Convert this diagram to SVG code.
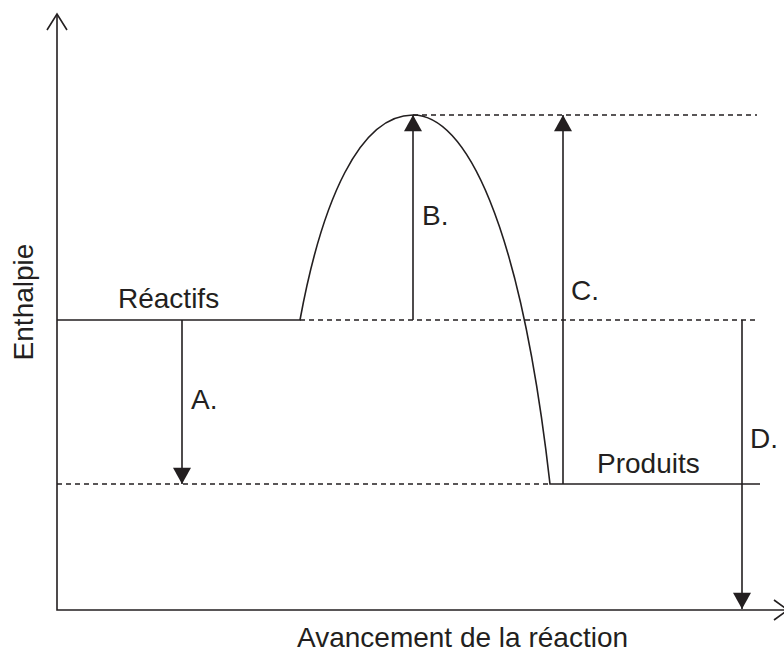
<svg xmlns="http://www.w3.org/2000/svg" width="784" height="653" viewBox="0 0 784 653">
<style>
.ln{stroke:#231f20;stroke-width:1.6;fill:none}
.ds{stroke:#231f20;stroke-width:1.5;fill:none;stroke-dasharray:5,4}
.t{font-family:"Liberation Sans",Arial,sans-serif;font-size:28px;fill:#231f20}
</style>
<defs>
<marker id="ah" markerWidth="20" markerHeight="18" refX="18" refY="10" orient="auto" markerUnits="userSpaceOnUse" viewBox="0 0 18 20">
<path d="M0,0 L18,10 L0,20 Z" fill="#231f20"/>
</marker>
</defs>
<rect width="784" height="653" fill="#fff"/>
<g id="axes">
<path class="ln" d="M57,15 V610 H784"/>
<path class="ln" d="M47,30 L57,14 L67,30"/>
<path class="ln" d="M774,600 L785,608 M774,620 L785,612"/>
</g>
<g id="guides">
<path class="ds" d="M300,320 H757"/>
<path class="ds" d="M57,484 H551"/>
<path class="ds" d="M413,115 H757"/>
</g>
<g id="curve">
<path class="ln" d="M57,320 H300 C322,200 360,115 413,115 C465,115 520,220 550,484 H760"/>
</g>
<g id="connectors">
<path class="ln" d="M182,320 V484" marker-end="url(#ah)"/>
<path class="ln" d="M413,320 V115" marker-end="url(#ah)"/>
<path class="ln" d="M563,484 V115" marker-end="url(#ah)"/>
<path class="ln" d="M742,320 V609" marker-end="url(#ah)"/>
</g>
<g id="labels">
<text class="t" x="118" y="308">Réactifs</text>
<text class="t" x="597" y="473">Produits</text>
<text class="t" x="191" y="409">A.</text>
<text class="t" x="422" y="225">B.</text>
<text class="t" x="571" y="300">C.</text>
<text class="t" x="750" y="448">D.</text>
<text class="t" x="297" y="647">Avancement de la réaction</text>
<text class="t" transform="translate(33,302) rotate(-90)" text-anchor="middle">Enthalpie</text>
</g>
</svg>
